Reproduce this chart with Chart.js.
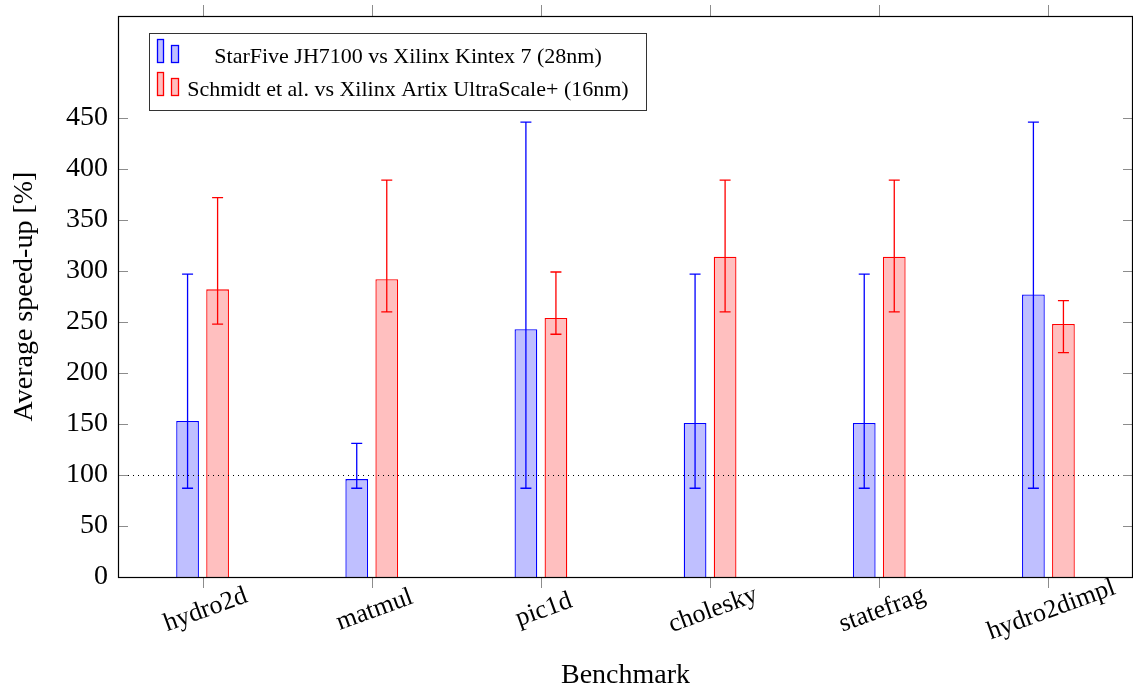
<!DOCTYPE html>
<html>
<head>
<meta charset="utf-8">
<script src="https://cdn.jsdelivr.net/npm/chart.js@4.4.0/dist/chart.umd.min.js"></script>
<style>
  html, body { margin: 0; padding: 0; background: #fff; }
  canvas { display: block; }
</style>
</head>
<body>
<canvas id="grafica" width="1133" height="687"></canvas>
<script>
const categorias = ['hydro2d', 'matmul', 'pic1d', 'cholesky', 'statefrag', 'hydro2dimpl'];
const etiquetaAzul = 'StarFive JH7100 vs Xilinx Kintex 7 (28nm)';
const etiquetaRoja = 'Schmidt et al. vs Xilinx Artix UltraScale+ (16nm)';
const valoresAzul = [153, 96, 243, 151, 151, 277];
const minAzul = [87, 87, 87, 87, 87, 87];
const maxAzul = [297, 131, 446, 297, 297, 446];
const valoresRojo = [282, 292, 254, 314, 314, 248];
const minRojo = [248, 260, 238, 260, 260, 220];
const maxRojo = [372, 389, 299, 389, 389, 271];
const ticksY = [0, 50, 100, 150, 200, 250, 300, 350, 400, 450];
const lineaBase = 100;

const fuente = 'Liberation Serif';
Chart.defaults.font.family = fuente;
Chart.defaults.color = '#000';

// barras de error min/max y linea punteada en 100
const barrasError = {
    id: 'barrasError',
    afterDatasetsDraw(chart) {
        const { ctx, chartArea: a, scales: { y } } = chart;
        ctx.save();
        ctx.lineWidth = 1.3;
        chart.data.datasets.forEach((ds, i) => {
            const meta = chart.getDatasetMeta(i);
            meta.data.forEach((barra, j) => {
                const px = barra.x;
                const y1 = y.getPixelForValue(ds.errMin[j]);
                const y2 = y.getPixelForValue(ds.errMax[j]);
                ctx.strokeStyle = ds.borderColor;
                ctx.beginPath();
                ctx.moveTo(px, y1); ctx.lineTo(px, y2);
                ctx.moveTo(px - 5.5, y1); ctx.lineTo(px + 5.5, y1);
                ctx.moveTo(px - 5.5, y2); ctx.lineTo(px + 5.5, y2);
                ctx.stroke();
            });
        });
        const py = Math.round(y.getPixelForValue(lineaBase)) + 0.5;
        ctx.strokeStyle = '#000';
        ctx.lineWidth = 1;
        ctx.setLineDash([1, 4]);
        ctx.beginPath();
        ctx.moveTo(a.left, py); ctx.lineTo(a.right, py);
        ctx.stroke();
        ctx.restore();
    }
};

// caja, marcas, etiquetas giradas y leyenda
const marco = {
    id: 'marco',
    afterDraw(chart) {
        const { ctx, chartArea: a, scales: { x, y } } = chart;
        ctx.save();
        ctx.lineWidth = 1;
        ctx.strokeStyle = '#8c8c8c';
        ctx.beginPath();
        categorias.forEach((c, i) => {
            const px = Math.round(x.getPixelForValue(i)) + 0.5;
            ctx.moveTo(px, a.bottom); ctx.lineTo(px, a.bottom + 11);
            ctx.moveTo(px, a.top); ctx.lineTo(px, a.top - 11);
        });
        ticksY.forEach(v => {
            const py = Math.round(y.getPixelForValue(v)) + 0.5;
            ctx.moveTo(a.left, py); ctx.lineTo(a.left + 10, py);
            ctx.moveTo(a.right, py); ctx.lineTo(a.right - 10, py);
        });
        ctx.stroke();

        ctx.strokeStyle = '#000';
        ctx.lineWidth = 1.2;
        const l = Math.round(a.left) + 0.5, t = Math.round(a.top) + 0.5;
        ctx.strokeRect(l, t, Math.round(a.right) - 1 - l + 0.5, Math.round(a.bottom) - t + 0.5);

        ctx.fillStyle = '#000';
        ctx.font = '26px ' + fuente;
        ctx.textAlign = 'center';
        ctx.textBaseline = 'middle';
        categorias.forEach((c, i) => {
            ctx.save();
            ctx.translate(x.getPixelForValue(i) + 3, a.bottom + 33);
            ctx.rotate(-20 * Math.PI / 180);
            ctx.fillText(c, 0, 0);
            ctx.restore();
        });

        // leyenda
        ctx.lineWidth = 1;
        ctx.fillStyle = '#fff';
        ctx.fillRect(149.5, 33.5, 497, 77);
        ctx.strokeStyle = '#333';
        ctx.strokeRect(149.5, 33.5, 497, 77);
        ctx.font = '22px ' + fuente;
        chart.data.datasets.forEach((ds, i) => {
            const cy = 57 + i * 33;
            ctx.lineWidth = 1.3;
            ctx.fillStyle = ds.backgroundColor;
            ctx.strokeStyle = ds.borderColor;
            ctx.fillRect(157.5, cy - 17.5, 6, 23);
            ctx.strokeRect(157.5, cy - 17.5, 6, 23);
            ctx.fillRect(171.5, cy - 11.5, 7, 17);
            ctx.strokeRect(171.5, cy - 11.5, 7, 17);
            ctx.fillStyle = '#000';
            ctx.fillText(ds.label, 408, cy);
        });
        ctx.restore();
    }
};

new Chart(document.getElementById('grafica'), {
    type: 'bar',
    data: {
        labels: categorias,
        datasets: [
            {
                label: etiquetaAzul, data: valoresAzul, errMin: minAzul, errMax: maxAzul,
                backgroundColor: 'rgb(191,191,255)', borderColor: 'rgb(0,0,255)', borderWidth: 1.3
            },
            {
                label: etiquetaRoja, data: valoresRojo, errMin: minRojo, errMax: maxRojo,
                backgroundColor: 'rgb(255,191,191)', borderColor: 'rgb(255,0,0)', borderWidth: 1.3
            }
        ]
    },
    options: {
        responsive: false,
        animation: false,
        categoryPercentage: 0.355,
        barPercentage: 0.757,
        layout: { padding: { top: 16, right: 0, left: 0, bottom: 0 } },
        plugins: { legend: { display: false }, tooltip: { enabled: false } },
        scales: {
            x: {
                grid: { display: false, drawTicks: false },
                border: { display: false },
                ticks: { display: false },
                title: { display: true, text: 'Benchmark', font: { size: 28, lineHeight: 0.8 }, padding: 0 },
                afterFit: s => { s.height = 110; s.paddingLeft = 0; s.paddingRight = 0; }
            },
            y: {
                min: 0,
                max: 550,
                grid: { display: false, drawTicks: false },
                border: { display: false },
                afterBuildTicks: s => { s.ticks = ticksY.map(v => ({ value: v })); },
                ticks: { font: { size: 28 }, padding: 10 },
                title: { display: true, text: 'Average speed-up [%]', font: { size: 28, lineHeight: 1 }, padding: { top: 11, bottom: 0 } },
                afterFit: s => { s.width = 118; s.paddingTop = 0; s.paddingBottom = 0; }
            }
        }
    },
    plugins: [barrasError, marco]
});
</script>
</body>
</html>
